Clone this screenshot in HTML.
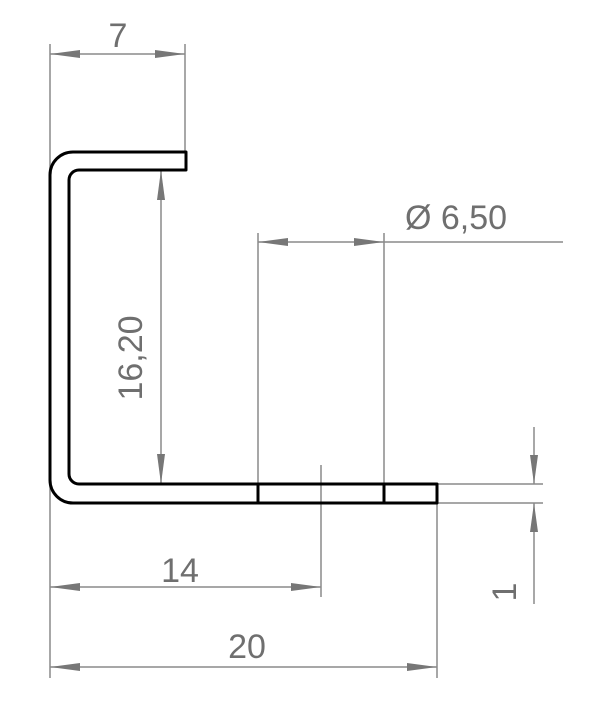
<!DOCTYPE html>
<html><head><style>html,body{margin:0;padding:0;background:#fff}svg{display:block}</style></head>
<body>
<svg width="600" height="722" viewBox="0 0 600 722" xmlns="http://www.w3.org/2000/svg">
<g stroke="#8a8a8a" stroke-width="1.5" fill="none">
<line x1="50" y1="44" x2="50" y2="678"/>
<line x1="185" y1="44" x2="185" y2="152"/>
<line x1="50" y1="54" x2="185" y2="54"/>
<line x1="161" y1="170" x2="161" y2="484"/>
<line x1="258" y1="233" x2="258" y2="484"/>
<line x1="384" y1="233" x2="384" y2="484"/>
<line x1="258" y1="242" x2="563" y2="242"/>
<line x1="321" y1="465" x2="321" y2="597"/>
<line x1="437" y1="502" x2="437" y2="678"/>
<line x1="437" y1="484" x2="543" y2="484"/>
<line x1="437" y1="503" x2="543" y2="503"/>
<line x1="534" y1="427" x2="534" y2="484"/>
<line x1="534" y1="503" x2="534" y2="604"/>
<line x1="50" y1="587" x2="321" y2="587"/>
<line x1="50" y1="667" x2="437" y2="667"/>
</g>
<g fill="#777">
<polygon points="50,54 80,50 80,58"/><polygon points="185,54 155,50 155,58"/>
<polygon points="161,170 157,200 165,200"/><polygon points="161,484 157,454 165,454"/>
<polygon points="258,242 288,238 288,246"/><polygon points="384,242 354,238 354,246"/>
<polygon points="534,484 530,455 538,455"/><polygon points="534,503 530,532 538,532"/>
<polygon points="50,587 80,583 80,591"/><polygon points="321,587 291,583 291,591"/>
<polygon points="50,667 80,663 80,671"/><polygon points="437,667 407,663 407,671"/>
</g>
<path d="M186,152 H73 A23,23 0 0 0 50,175 V480 A23,23 0 0 0 73,503 H437 V484 H79 A10,10 0 0 1 69,474 V180 A10,10 0 0 1 79,170 H186 Z" fill="none" stroke="#000" stroke-width="3" stroke-linejoin="round"/>
<line x1="258" y1="484" x2="258" y2="503" stroke="#000" stroke-width="3"/>
<line x1="384" y1="484" x2="384" y2="503" stroke="#000" stroke-width="3"/>
<g fill="#6f6f6f" font-family="Liberation Sans, sans-serif" font-size="34">
<text x="118" y="47" text-anchor="middle">7</text>
<text x="456" y="229" text-anchor="middle">Ø 6,50</text>
<text x="180" y="582" text-anchor="middle">14</text>
<text x="247" y="658" text-anchor="middle">20</text>
<text transform="translate(142,358) rotate(-90)" text-anchor="middle">16,20</text>
<text transform="translate(516,592) rotate(-90)" text-anchor="middle">1</text>
</g>
</svg>
</body></html>
